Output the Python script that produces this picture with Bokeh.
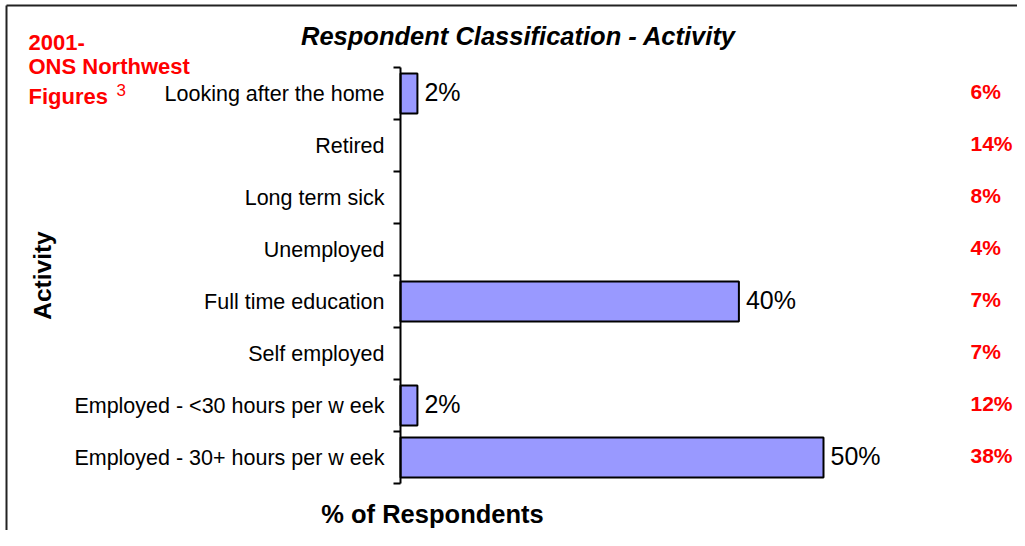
from bokeh.plotting import figure
from bokeh.models import Range1d, FixedTicker, Label, ColumnDataSource
from bokeh.core.properties import value
from bokeh.embed import file_html
from bokeh.resources import INLINE

# ---- data (top to bottom as in the chart) ----
categories = ["Looking after the home", "Retired", "Long term sick", "Unemployed",
              "Full time education", "Self employed",
              "Employed - <30 hours per w eek", "Employed - 30+ hours per w eek"]
respondents_pct = [2, 0, 0, 0, 40, 0, 2, 50]
ons_northwest_pct = [6, 14, 8, 4, 7, 7, 12, 38]

title_text = "Respondent Classification - Activity"
y_label = "Activity"
x_label = "% of Respondents"

# ---- layout helpers (canvas pixel -> data) ----
W, H = 1017, 530
AX_PX = 400.0      # canvas x of the value axis (0 %)
PX_PER_PCT = 8.46
Y0_PX = 483.0      # canvas y of the lowest band edge (y = 0.5)
PX_PER_BAND = 52.0

def px_to_x(px):
    return (px - AX_PX) / PX_PER_PCT

def py_to_y(py):
    return 0.5 + (Y0_PX - py) / PX_PER_BAND

n = len(categories)
ypos = [n - i for i in range(n)]

FONT = "Liberation Sans"

p = figure(width=W, height=H, output_backend="svg", toolbar_location=None,
           x_axis_location=None,
           x_range=Range1d(px_to_x(0), px_to_x(W)),
           y_range=Range1d(py_to_y(H), py_to_y(0)),
           min_border_left=0, min_border_right=0, min_border_top=0, min_border_bottom=0)
p.title.visible = False
p.grid.visible = False
p.outline_line_color = None
p.background_fill_color = "white"
p.border_fill_color = "white"

# chart frame (left and top edges visible in the picture)
p.segment(x0=[px_to_x(6), px_to_x(6)], y0=[py_to_y(5), py_to_y(5)],
          x1=[px_to_x(6), px_to_x(W + 20)], y1=[py_to_y(H + 20), py_to_y(5)],
          line_color="#222222", line_width=2)

# y axis drawn at x = 0: labels at band centres, ticks at band boundaries
ax = p.yaxis[0]
ax.fixed_location = 0
ax.ticker = FixedTicker(ticks=ypos, minor_ticks=[k + 0.5 for k in range(n + 1)])
ax.bounds = (0.5, n + 0.5)
ax.major_label_overrides = {yy: c for yy, c in zip(ypos, categories)}
ax.major_tick_out = 0
ax.major_tick_in = 0
ax.minor_tick_out = 7
ax.minor_tick_in = 0
ax.minor_tick_line_width = 2
ax.minor_tick_line_color = "black"
ax.axis_line_width = 2
ax.axis_line_color = "black"
ax.major_label_standoff = 9
ax.major_label_text_font = FONT
ax.major_label_text_font_size = "21.5px"
ax.major_label_text_color = "black"
ax.axis_label = y_label
ax.axis_label_text_font = FONT
ax.axis_label_text_font_size = "24.5px"
ax.axis_label_text_font_style = "bold"
ax.axis_label_text_color = "black"
ax.axis_label_standoff = 15

# bars (only non-zero ones are drawn)
bar_y = [yy for yy, v in zip(ypos, respondents_pct) if v > 0]
bar_v = [v for v in respondents_pct if v > 0]
src = ColumnDataSource(dict(y=bar_y, right=bar_v,
                            lab=[f"{v}%" for v in bar_v]))
p.hbar(y="y", left=0, right="right", height=40 / 52, source=src,
       fill_color="#9999FF", line_color="black", line_width=2)
p.text(x="right", y="y", text="lab", source=src, x_offset=7, y_offset=-2,
       text_baseline="middle", text_align="left",
       text_font=value(FONT), text_font_size="25px", text_color="black")

# ONS Northwest comparison figures (red, right)
ons_src = ColumnDataSource(dict(x=[px_to_x(970)] * n, y=ypos,
                                lab=[f"{v}%" for v in ons_northwest_pct]))
p.text(x="x", y="y", text="lab", source=ons_src, y_offset=-2,
       text_baseline="middle", text_align="left", text_font=value(FONT),
       text_font_size="21px", text_font_style="bold", text_color="#FF0000")

# title
p.add_layout(Label(x=px_to_x(518), y=py_to_y(35), text=title_text,
                   text_align="center", text_baseline="middle",
                   text_font=FONT, text_font_size="25.5px",
                   text_font_style="bold italic", text_color="black"))

# x-axis title
p.add_layout(Label(x=px_to_x(432), y=py_to_y(513), text=x_label,
                   text_align="center", text_baseline="middle",
                   text_font=FONT, text_font_size="25.5px",
                   text_font_style="bold", text_color="black"))

# red note in top-left corner
for txt, py in [("2001-", 42), ("ONS Northwest", 66), ("Figures", 96)]:
    p.add_layout(Label(x=px_to_x(28), y=py_to_y(py), text=txt,
                       text_align="left", text_baseline="middle",
                       text_font=FONT, text_font_size="22px",
                       text_font_style="bold", text_color="#FF0000"))
p.add_layout(Label(x=px_to_x(116), y=py_to_y(89), text="3",
                   text_align="left", text_baseline="middle",
                   text_font=FONT, text_font_size="17px",
                   text_color="#FF0000"))

open("out.html", "w").write(file_html(p, INLINE))
